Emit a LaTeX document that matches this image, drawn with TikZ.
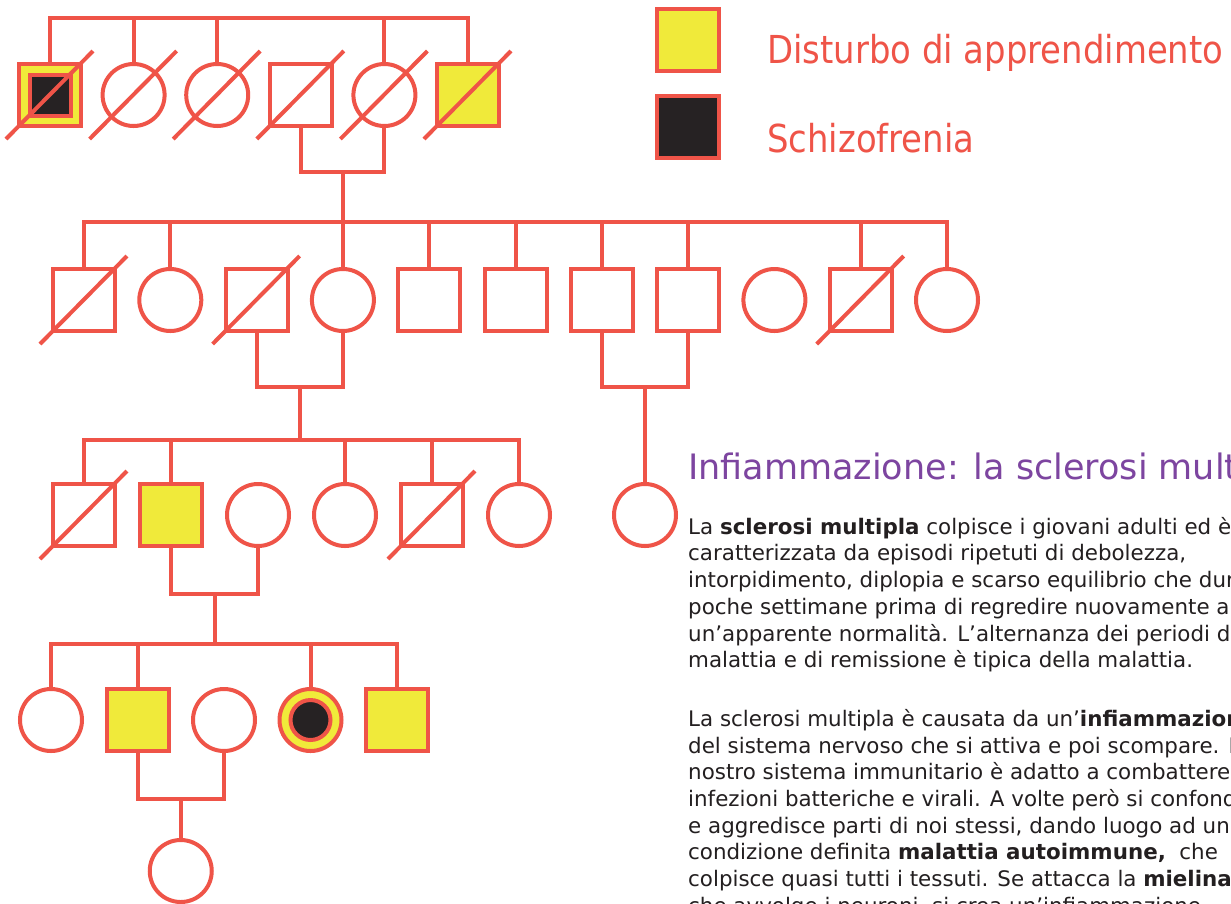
\documentclass[tikz,border=0pt]{standalone}
\usepackage{fontspec}
\setmainfont{DejaVu Sans}
\newfontfamily\keyfont[FakeStretch=0.88]{DejaVu Sans}
\usetikzlibrary{calc}
\definecolor{pedred}{RGB}{239,84,72}
\definecolor{pedyellow}{RGB}{240,234,58}
\definecolor{pedblack}{RGB}{38,34,35}
\definecolor{titlepurple}{RGB}{125,69,160}
\definecolor{bodyblack}{RGB}{35,31,32}

\begin{document}
\begin{tikzpicture}[x=1pt,y=-1pt,
    link/.style={draw=pedred,line width=4pt},
    male/.style={rectangle,draw=pedred,line width=4pt,fill=white,minimum size=62pt,inner sep=0pt},
    female/.style={circle,draw=pedred,line width=4pt,fill=white,minimum size=62pt,inner sep=0pt},
    learn/.style={fill=pedyellow},
    schizo/.style={fill=pedblack,minimum size=41pt},
    keytext/.style={anchor=base west,text=pedred,font=\keyfont\fontsize{38.5}{40}\selectfont,inner sep=0pt},
    bodytext/.style={anchor=base west,align=left,text=bodyblack,inner sep=0pt,
      font=\fontsize{21.4}{26.7}\selectfont}]
  \path[use as bounding box,fill=white] (0,0) rectangle (1231,903);
  % generation I
  \node[male,learn] (a1) at (50,95) {};
  \node[male,schizo] (a1in) at (a1) {};
  \node[female] (a2) at (133.6,95) {};
  \node[female] (a3) at (217.2,95) {};
  \node[male] (a4) at (300.8,95) {};
  \node[female] (a5) at (384.4,95) {};
  \node[male,learn] (a6) at (468,95) {};
  \coordinate (barI) at (0,18);
  \draw[link] (a1.north) |- (a6.north |- barI) -- (a6.north);
  \foreach \n in {a2,a3,a5}
    \draw[link] (\n.north) -- (\n.north |- barI);
  \path ($(a4.south)!.5!(a5.south)$) ++(0,44) coordinate (uI);
  \draw[link] (a4.south) |- (uI) -| (a5.south);
  % generation II
  \foreach \s [count=\i] in {male,female,male,female,male,male,male,male,female,male,female}
    \node[\s] (b\i) at (84+86.3*\i-86.3,300) {};
  \coordinate (barII) at (0,222);
  \draw[link] (uI) -- (uI |- barII);
  \draw[link] (b1.north) |- (b11.north |- barII) -- (b11.north);
  \foreach \n in {b2,b4,b5,b6,b7,b8,b10}
    \draw[link] (\n.north) -- (\n.north |- barII);
  \path ($(b3.south)!.5!(b4.south)$) ++(0,54) coordinate (uII);
  \draw[link] (b3.south) |- (uII) -| (b4.south);
  \path ($(b7.south)!.5!(b8.south)$) ++(0,54) coordinate (uIIb);
  \draw[link] (b7.south) |- (uIIb) -| (b8.south);
  % generation III
  \node[male] (c1) at (84,515) {};
  \node[male,learn] (c2) at (171,515) {};
  \node[female] (c3) at (258,515) {};
  \node[female] (c4) at (345,515) {};
  \node[male] (c5) at (432,515) {};
  \node[female] (c6) at (519,515) {};
  \node[female] (c7) at (645,515) {};
  \coordinate (barIII) at (0,440);
  \draw[link] (uII) -- (uII |- barIII);
  \draw[link] (uIIb) -- (uIIb |- c7.north);
  \draw[link] (c1.north) |- (c6.north |- barIII) -- (c6.north);
  \foreach \n in {c2,c4,c5}
    \draw[link] (\n.north) -- (\n.north |- barIII);
  \path ($(c2.south)!.5!(c3.south)$) ++(0,46) coordinate (uIII);
  \draw[link] (c2.south) |- (uIII) -| (c3.south);
  % generation IV
  \node[female] (d1) at (51,720) {};
  \node[male,learn] (d2) at (137.5,720) {};
  \node[female] (d3) at (224,720) {};
  \node[female,learn] (d4) at (310.5,720) {};
  \node[female,schizo,minimum size=40pt] (d4in) at (d4) {};
  \node[male,learn] (d5) at (397,720) {};
  \coordinate (barIV) at (0,644);
  \draw[link] (uIII) -- (uIII |- barIV);
  \draw[link] (d1.north) |- (d5.north |- barIV) -- (d5.north);
  \foreach \n in {d2,d4}
    \draw[link] (\n.north) -- (\n.north |- barIV);
  \path ($(d2.south)!.5!(d3.south)$) ++(0,46) coordinate (uIV);
  \draw[link] (d2.south) |- (uIV) -| (d3.south);
  % generation V
  \node[female] (e1) at (uIV |- 0,871) {};
  \draw[link] (uIV) -- (e1.north);
  % deceased
  \foreach \n in {a1,a2,a3,a4,a5,a6,b1,b3,b10,c1,c5}
    \draw[link] ($(\n.center)+(-44,44)$) -- ($(\n.center)+(43,-44)$);
  % legend
  \node[male,learn] (key1) at (688,40) {};
  \node[male,schizo,minimum size=62pt] (key2) at (688,127) {};
  \node[keytext] (key1txt) at (767,63) {Disturbo di apprendimento};
  \node[keytext] (key2txt) at (767,152) {Schizofrenia};
  % text (base of a multi-line node = its last line)
  \node[anchor=base west,inner sep=0pt,text=titlepurple,font=\fontsize{35}{40}\selectfont]
    (title) at (688,479) {Infiammazione: la sclerosi multipla};
  \node[bodytext] (para1) at (688,667.7) {La \textbf{sclerosi multipla} colpisce i giovani adulti ed è\\
    caratterizzata da episodi ripetuti di debolezza,\\
    intorpidimento, diplopia e scarso equilibrio che durano\\
    poche settimane prima di regredire nuovamente a\\
    un’apparente normalità. L’alternanza dei periodi di\\
    malattia e di remissione è tipica della malattia.};
  \node[bodytext] (para2) at (688,913.3) {La sclerosi multipla è causata da un’\textbf{infiammazione}\\
    del sistema nervoso che si attiva e poi scompare. Il\\
    nostro sistema immunitario è adatto a combattere le\\
    infezioni batteriche e virali. A volte però si confonde\\
    e aggredisce parti di noi stessi, dando luogo ad una\\
    condizione definita \textbf{malattia autoimmune,}\ \ che\\
    colpisce quasi tutti i tessuti. Se attacca la \textbf{mielina}\\
    che avvolge i neuroni, si crea un’infiammazione};
\end{tikzpicture}
\end{document}
